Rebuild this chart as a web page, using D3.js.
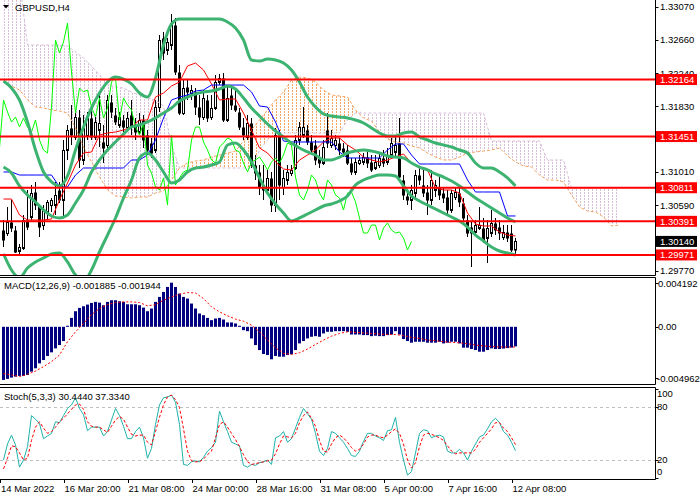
<!DOCTYPE html>
<html>
<head>
<meta charset="utf-8">
<title>GBPUSD,H4</title>
<script src="https://cdn.jsdelivr.net/npm/d3@7"></script>
<style>
  body { margin: 0; background: #fff; }
  svg { display: block; font-family: "Liberation Sans", Arial, sans-serif; font-size: 9.5px; }
</style>
</head>
<body>
<script>

// ---- price bars (H4) ----
var candleOpen = [1.30283,1.30245,1.30383,1.30283,1.30020,1.30058,1.30408,1.30445,1.30758,1.30583,
  1.30345,1.30508,1.30595,1.30595,1.30783,1.30658,1.31283,1.31558,1.31445,1.31695,
  1.31158,1.31470,1.31683,1.31445,1.31533,1.31383,1.31345,1.31883,1.31720,1.31595,
  1.31658,1.31570,1.31720,1.31595,1.31508,1.31658,1.31470,1.31370,1.31283,1.31820,
  1.32683,1.32533,1.32595,1.32845,1.32258,1.31745,1.32070,1.31995,1.32008,1.31820,
  1.31695,1.31908,1.31695,1.31808,1.32133,1.32183,1.31658,1.31970,1.31845,1.31758,
  1.31570,1.31445,1.31620,1.31095,1.31008,1.30845,1.30783,1.30933,1.30595,1.31470,
  1.30820,1.30908,1.30995,1.31058,1.31408,1.31470,1.31533,1.31383,1.31345,1.31195,
  1.31120,1.31533,1.31345,1.31345,1.31370,1.31308,1.31283,1.31120,1.31008,1.31120,
  1.31133,1.31195,1.31133,1.31058,1.31095,1.31183,1.31133,1.31220,1.31258,1.31370,
  1.30908,1.30708,1.30658,1.30745,1.30970,1.30845,1.30758,1.30658,1.30783,1.30820,
  1.30745,1.30695,1.30533,1.30695,1.30745,1.30620,1.30408,1.30320,1.30258,1.30308,
  1.30308,1.30183,1.30245,1.30370,1.30320,1.30195,1.30258,1.30245,1.30033];
var candleHigh = [1.30408,1.30570,1.30658,1.30333,1.30108,1.30470,1.30783,1.30845,1.30883,1.30558,
  1.30595,1.30658,1.30683,1.30883,1.30883,1.31408,1.31595,1.31845,1.31783,1.31783,
  1.31720,1.31758,1.31845,1.31720,1.31970,1.31595,1.31970,1.31970,1.31808,1.31758,
  1.31720,1.31758,1.31908,1.31683,1.31745,1.31720,1.31533,1.31433,1.31908,1.32720,
  1.32758,1.32683,1.32983,1.32933,1.32345,1.32158,1.32158,1.32095,1.32058,1.31970,
  1.32033,1.31970,1.31970,1.32220,1.32233,1.32245,1.32095,1.32095,1.32033,1.31808,
  1.31683,1.31720,1.31683,1.31220,1.31095,1.31095,1.31033,1.31008,1.31558,1.31533,
  1.31033,1.31095,1.31095,1.31470,1.31633,1.31820,1.31595,1.31470,1.31408,1.31283,
  1.31408,1.31745,1.31533,1.31470,1.31433,1.31370,1.31345,1.31183,1.31183,1.31220,
  1.31245,1.31283,1.31220,1.31220,1.31258,1.31283,1.31308,1.31433,1.31470,1.31683,
  1.30970,1.30783,1.30845,1.31033,1.31058,1.31033,1.30845,1.31033,1.30908,1.30970,
  1.30808,1.30783,1.30783,1.30808,1.30808,1.30683,1.30470,1.30383,1.30408,1.30570,
  1.30433,1.30408,1.30533,1.30433,1.30408,1.30345,1.30345,1.30345,1.30183];
var candleLow = [1.30070,1.30208,1.30258,1.29995,1.29983,1.30033,1.30283,1.30408,1.30533,1.30195,
  1.30283,1.30408,1.30508,1.30470,1.30620,1.30445,1.31158,1.31345,1.31408,1.31058,
  1.31095,1.31408,1.31408,1.31408,1.31320,1.31120,1.31283,1.31683,1.31595,1.31558,
  1.31508,1.31533,1.31470,1.31408,1.31470,1.31308,1.31220,1.31183,1.31245,1.31758,
  1.32408,1.32470,1.32533,1.32220,1.31720,1.31720,1.31908,1.31908,1.31720,1.31595,
  1.31658,1.31633,1.31658,1.31783,1.32095,1.31633,1.31633,1.31783,1.31758,1.31533,
  1.31408,1.31408,1.31058,1.30908,1.30720,1.30658,1.30720,1.30508,1.30508,1.30658,
  1.30720,1.30845,1.30958,1.31033,1.31345,1.31433,1.31345,1.31220,1.31095,1.31058,
  1.31095,1.31308,1.31308,1.31283,1.31220,1.31195,1.31095,1.30970,1.30970,1.31095,
  1.31095,1.31058,1.31008,1.31033,1.31058,1.31070,1.31095,1.31183,1.31183,1.30908,
  1.30658,1.30595,1.30533,1.30683,1.30845,1.30695,1.30470,1.30595,1.30695,1.30658,
  1.30620,1.30470,1.30495,1.30658,1.30570,1.30383,1.30195,1.29820,1.30220,1.30283,
  1.30120,1.29870,1.30195,1.30220,1.30158,1.30158,1.30133,1.30008,1.29983];
var candleClose = [1.30158,1.30383,1.30308,1.30008,1.30070,1.30408,1.30320,1.30745,1.30595,1.30320,
  1.30533,1.30633,1.30658,1.30720,1.30658,1.31283,1.31533,1.31470,1.31695,1.31158,
  1.31558,1.31683,1.31445,1.31633,1.31620,1.31308,1.31908,1.31758,1.31633,1.31695,
  1.31570,1.31683,1.31570,1.31508,1.31658,1.31408,1.31283,1.31245,1.31820,1.32658,
  1.32495,1.32633,1.32870,1.32258,1.31745,1.32058,1.32008,1.32033,1.31820,1.31695,
  1.31933,1.31683,1.31808,1.32133,1.32183,1.31658,1.31933,1.31845,1.31783,1.31570,
  1.31470,1.31620,1.31095,1.30995,1.30820,1.30783,1.30933,1.30595,1.31470,1.30845,
  1.30933,1.31008,1.31033,1.31408,1.31570,1.31570,1.31383,1.31283,1.31158,1.31120,
  1.31320,1.31370,1.31433,1.31408,1.31283,1.31258,1.31120,1.31008,1.31133,1.31158,
  1.31195,1.31120,1.31033,1.31133,1.31183,1.31120,1.31220,1.31370,1.31345,1.30945,
  1.30720,1.30658,1.30783,1.30970,1.30908,1.30745,1.30658,1.30908,1.30845,1.30720,
  1.30683,1.30533,1.30745,1.30758,1.30633,1.30433,1.30245,1.30245,1.30345,1.30345,
  1.30158,1.30308,1.30370,1.30283,1.30245,1.30258,1.30183,1.30033,1.30140];

// ---- Bollinger bands, every second bar ----
var bbUpper = [1.32145,1.32058,1.31908,1.31633,1.31283,1.31008,1.30883,1.30833,1.30958,1.31283,
  1.31570,1.31808,1.31995,1.32133,1.32195,1.32170,1.32108,1.31995,1.31945,1.32183,
  1.32595,1.32858,1.32920,1.32920,1.32920,1.32920,1.32920,1.32920,1.32883,1.32808,
  1.32658,1.32408,1.32395,1.32420,1.32408,1.32370,1.32283,1.32133,1.31945,1.31820,
  1.31733,1.31708,1.31695,1.31683,1.31658,1.31620,1.31558,1.31495,1.31458,1.31458,
  1.31495,1.31508,1.31445,1.31408,1.31370,1.31345,1.31320,1.31283,1.31245,1.31120,
  1.31058,1.31058,1.31008,1.30933,1.30833];
var bbMiddle = [1.31070,1.30995,1.30833,1.30720,1.30633,1.30533,1.30458,1.30433,1.30470,1.30620,
  1.30783,1.31008,1.31158,1.31283,1.31383,1.31483,1.31570,1.31595,1.31633,1.31683,
  1.31745,1.31808,1.31895,1.31945,1.31983,1.32008,1.32020,1.32045,1.32083,1.32045,
  1.31933,1.31808,1.31708,1.31608,1.31520,1.31445,1.31370,1.31308,1.31258,1.31220,
  1.31158,1.31158,1.31195,1.31245,1.31270,1.31283,1.31270,1.31245,1.31208,1.31195,
  1.31183,1.31120,1.31070,1.31033,1.30983,1.30945,1.30895,1.30833,1.30758,1.30683,
  1.30620,1.30558,1.30495,1.30433,1.30383];
var bbLower = [1.29983,1.29783,1.29683,1.29808,1.29883,1.29933,1.29983,1.29995,1.29883,1.29720,
  1.29633,1.29783,1.30008,1.30220,1.30433,1.30683,1.30908,1.31183,1.31245,1.31158,
  1.31008,1.30870,1.30908,1.31008,1.31058,1.31070,1.31095,1.31133,1.31345,1.31370,
  1.31283,1.31133,1.30933,1.30745,1.30608,1.30495,1.30395,1.30433,1.30483,1.30533,
  1.30583,1.30608,1.30645,1.30708,1.30845,1.30908,1.30945,1.30970,1.30970,1.30958,
  1.30833,1.30708,1.30645,1.30595,1.30545,1.30495,1.30445,1.30395,1.30320,1.30220,
  1.30145,1.30070,1.30020,1.29995,1.29970];

// ---- Ichimoku, every second bar ----
var tenkan = [1.30670,1.30670,1.30470,1.30408,1.30408,1.30408,1.30420,1.30658,1.30870,1.31095,
  1.31245,1.31258,1.31470,1.31495,1.31508,1.31533,1.31570,1.31658,1.31658,1.31945,
  1.31995,1.32083,1.32133,1.32333,1.32370,1.32283,1.32108,1.31908,1.31920,1.31920,
  1.31745,1.31533,1.31308,1.31245,1.31133,1.31045,1.31033,1.31158,1.31220,1.31283,
  1.31383,1.31433,1.31433,1.31345,1.31283,1.31195,1.31158,1.31133,1.31158,1.31195,
  1.31233,1.31120,1.31058,1.31033,1.30808,1.30783,1.30783,1.30745,1.30495,1.30358,
  1.30333,1.30333,1.30258,1.30220,1.30208];
var kijun = [1.31008,1.31008,1.30970,1.30970,1.30970,1.30970,1.30970,1.30820,1.30820,1.30970,
  1.31058,1.31058,1.31058,1.31058,1.31058,1.31058,1.31158,1.31158,1.31220,1.31408,
  1.31683,1.31908,1.31945,1.31970,1.32020,1.32033,1.32095,1.32095,1.32095,1.32095,
  1.32095,1.32008,1.31833,1.31820,1.31633,1.31395,1.31383,1.31383,1.31383,1.31383,
  1.31383,1.31383,1.31258,1.31183,1.31183,1.31183,1.31183,1.31183,1.31283,1.31358,
  1.31358,1.31220,1.31108,1.31108,1.31108,1.31108,1.31108,1.31108,1.30908,1.30758,
  1.30758,1.30758,1.30758,1.30458,1.30458];
// senkou spans run 26 bars past the last candle
var spanA = [1.32133,1.32083,1.32033,1.31908,1.31820,1.31808,1.31783,1.31770,1.31745,1.31558,
  1.31320,1.31133,1.30945,1.30783,1.30708,1.30695,1.30683,1.30695,1.30695,1.30745,
  1.30770,1.30908,1.31058,1.31120,1.31145,1.31158,1.31195,1.31220,1.31245,1.31270,
  1.31395,1.31533,1.31658,1.31783,1.31908,1.32008,1.32158,1.32195,1.32183,1.32133,
  1.32033,1.31970,1.31958,1.31945,1.31783,1.31683,1.31645,1.31508,1.31420,1.31383,
  1.31370,1.31333,1.31308,1.31245,1.31195,1.31158,1.31158,1.31195,1.31245,1.31258,
  1.31270,1.31283,1.31308,1.31208,1.31133,1.31083,1.31070,1.30970,1.30908,1.30908,
  1.30883,1.30720,1.30570,1.30520,1.30508,1.30445,1.30333,1.30345];
var spanB = [1.33408,1.33408,1.33408,1.32595,1.32595,1.32595,1.32595,1.32595,1.32583,1.32508,
  1.32433,1.32333,1.32220,1.32108,1.32070,1.32058,1.32008,1.31970,1.31933,1.31908,
  1.31833,1.31345,1.31058,1.31058,1.31058,1.31058,1.31058,1.31058,1.31058,1.31058,
  1.31058,1.31058,1.31283,1.31408,1.31495,1.31495,1.31495,1.31495,1.31495,1.31495,
  1.31495,1.31495,1.31495,1.31658,1.31745,1.31745,1.31745,1.31745,1.31745,1.31745,
  1.31745,1.31745,1.31745,1.31745,1.31745,1.31745,1.31745,1.31745,1.31745,1.31745,
  1.31745,1.31395,1.31395,1.31395,1.31395,1.31395,1.31395,1.31395,1.31158,1.31158,
  1.31158,1.30808,1.30808,1.30808,1.30808,1.30808,1.30808,1.30808];
var chikouShift = 26;

// ---- MACD(12,26,9) ----
var macdHist = [-0.00512,-0.00502,-0.00489,-0.00480,-0.00473,-0.00473,-0.00464,-0.00432,-0.00400,-0.00352,
  -0.00320,-0.00281,-0.00246,-0.00208,-0.00176,-0.00137,0.00010,0.00086,0.00150,0.00182,
  0.00198,0.00214,0.00230,0.00240,0.00233,0.00208,0.00240,0.00256,0.00256,0.00246,
  0.00240,0.00217,0.00217,0.00217,0.00208,0.00185,0.00150,0.00176,0.00240,0.00288,
  0.00336,0.00384,0.00425,0.00384,0.00320,0.00288,0.00272,0.00224,0.00176,0.00128,
  0.00112,0.00086,0.00064,0.00080,0.00086,0.00070,0.00042,0.00042,0.00032,0.00010,
  -0.00032,-0.00042,-0.00112,-0.00176,-0.00224,-0.00262,-0.00272,-0.00313,-0.00281,-0.00288,
  -0.00288,-0.00272,-0.00265,-0.00224,-0.00160,-0.00137,-0.00112,-0.00096,-0.00090,-0.00096,
  -0.00064,-0.00048,-0.00048,-0.00042,-0.00042,-0.00042,-0.00048,-0.00074,-0.00074,-0.00074,
  -0.00080,-0.00080,-0.00090,-0.00086,-0.00090,-0.00090,-0.00080,-0.00074,-0.00042,-0.00074,
  -0.00118,-0.00137,-0.00153,-0.00144,-0.00144,-0.00144,-0.00153,-0.00153,-0.00153,-0.00144,
  -0.00160,-0.00153,-0.00144,-0.00144,-0.00160,-0.00201,-0.00201,-0.00214,-0.00224,-0.00240,
  -0.00240,-0.00224,-0.00208,-0.00214,-0.00214,-0.00210,-0.00205,-0.00200,-0.001885];
var macdSignal = [-0.00451,-0.00464,-0.00480,-0.00458,-0.00426,-0.00384,-0.00336,-0.00272,-0.00144,-0.00048,
  0.00032,0.00118,0.00176,0.00214,0.00234,0.00240,0.00240,0.00234,0.00202,0.00214,
  0.00256,0.00288,0.00314,0.00330,0.00326,0.00272,0.00192,0.00144,0.00106,0.00074,
  0.00054,0.00016,-0.00048,-0.00128,-0.00202,-0.00256,-0.00266,-0.00250,-0.00214,-0.00170,
  -0.00128,-0.00090,-0.00064,-0.00048,-0.00054,-0.00058,-0.00064,-0.00070,-0.00074,-0.00074,
  -0.00086,-0.00102,-0.00112,-0.00128,-0.00134,-0.00144,-0.00150,-0.00154,-0.00163,-0.00176,
  -0.00184,-0.00190,-0.00194,-0.00195,-0.001944];

// ---- Stochastic(5,3,3) ----
var stochMain = [20,38,48,37,12,20,35,70,66,61, 44,47,50,63,62,70,78,82,90,78,
  71,53,57,57,57,47,52,65,78,70, 58,44,44,52,57,45,22,33,60,82,
  90,91,93,85,60,15,14,18,19,18, 23,30,34,40,75,63,52,40,38,36,
  14,12,15,14,17,18,20,15,45,47, 52,40,44,56,68,78,72,66,50,30,
  25,33,52,50,45,40,33,25,24,30, 41,50,50,47,45,42,53,54,68,40,
  20,3,7,28,50,54,53,45,47,48, 46,30,28,28,32,28,20,30,38,46,
  48,55,63,67,62,52,48,40,30.444];
var stochSignal = [10,22,36,35,28,20,22,42,57,63, 56,50,52,57,63,67,72,77,82,83,
  77,63,58,57,57,54,51,58,65,69, 66,57,49,47,48,48,40,37,52,68,
  82,91,93,88,79,55,30,19,18,18, 21,26,30,45,60,63,57,50,43,35,
  26,18,15,16,17,18,19,20,27,38, 47,46,45,50,62,70,74,67,58,42,
  30,29,38,45,48,45,40,34,30,32, 38,46,48,48,46,45,48,52,55,50,
  38,20,11,17,35,48,50,49,47,45, 42,36,30,27,28,28,28,28,32,40,
  45,50,55,62,62,56,52,45,37.334];

// ---- levels and axis labels ----
var levelLines = [1.32164, 1.31451, 1.30811, 1.30391, 1.29971];
var lastPrice = 1.30140;
var priceTicks = [1.33070, 1.32660, 1.32240, 1.31830, 1.31420, 1.31010, 1.30590, 1.30180, 1.29770];
var macdTicks = [0.004192, 0, -0.004962];
var macdTickLabels = ['0.004192', '0.00', '-0.004962'];
var stochTicks = [100, 80, 20, 0];
var stochLevels = [80, 20];
var timeBars = [-1, 15, 31, 47, 63, 79, 95, 111, 127];
var timeLabels = ['14 Mar 2022', '16 Mar 20:00', '21 Mar 08:00', '24 Mar 00:00', '28 Mar 16:00',
  '31 Mar 08:00', '5 Apr 00:00', '7 Apr 16:00', '12 Apr 08:00'];


var plotRight = 655.5;
var svg = d3.select('body').append('svg')
  .attr('width', 700)
  .attr('height', 500);

var x = d3.scaleLinear().domain([0, 128]).range([3.5, 515.5]);
var yP = d3.scaleLinear().domain([1.29714, 1.33158]).range([275.5, 0]);
var yM = d3.scaleLinear().domain([-0.004962, 0.004192]).range([378.3, 283.3]);
var yS = d3.scaleLinear().domain([0, 100]).range([477.8, 388.9]);

var defs = svg.append('defs');
[['main', 0, 0, 655, 275], ['macd', 0, 278, 655, 106], ['stoch', 0, 388, 655, 91]].forEach(function(c) {
  defs.append('clipPath').attr('id', 'clip-' + c[0])
    .append('rect').attr('x', c[1]).attr('y', c[2]).attr('width', c[3]).attr('height', c[4]);
});
// dotted vertical hatching of the kumo, one column per bar
function hatch(id, color) {
  var p = defs.append('pattern').attr('id', id)
    .attr('patternUnits', 'userSpaceOnUse')
    .attr('x', 0).attr('y', 0).attr('width', 4).attr('height', 3);
  p.append('rect').attr('width', 1).attr('height', 2)
    .attr('fill', color).attr('shape-rendering', 'crispEdges');
}
hatch('kumo-up', '#F4A460');
hatch('kumo-down', '#D8BFD8');

function every2(values, scale) {
  return values.map(function(v, k) { return [x(2 * k), scale(v)]; });
}
var line = d3.line();
var smooth = d3.line().curve(d3.curveMonotoneX);

// ================= main window =================
var main = svg.append('g').attr('clip-path', 'url(#clip-main)');

var kumoIdx = d3.range(spanA.length);
main.append('path')
  .attr('d', d3.area()
    .x(function(k) { return x(2 * k); })
    .y0(function(k) { return yP(spanB[k]); })
    .y1(function(k) { return Math.min(yP(spanA[k]), yP(spanB[k])); })(kumoIdx))
  .attr('fill', 'url(#kumo-up)');
main.append('path')
  .attr('d', d3.area()
    .x(function(k) { return x(2 * k); })
    .y0(function(k) { return yP(spanA[k]); })
    .y1(function(k) { return Math.min(yP(spanA[k]), yP(spanB[k])); })(kumoIdx))
  .attr('fill', 'url(#kumo-down)');

// candles
var bars = main.selectAll('g.bar').data(d3.range(candleClose.length))
  .enter().append('g').attr('class', 'bar');
bars.append('line')
  .attr('x1', function(i) { return x(i); })
  .attr('x2', function(i) { return x(i); })
  .attr('y1', function(i) { return yP(candleHigh[i]); })
  .attr('y2', function(i) { return yP(candleLow[i]); })
  .attr('stroke', '#000');
bars.append('rect')
  .attr('x', function(i) { return candleClose[i] >= candleOpen[i] ? x(i) - 1 : x(i) - 1.5; })
  .attr('width', function(i) { return candleClose[i] >= candleOpen[i] ? 2 : 3; })
  .attr('y', function(i) { return Math.round(yP(Math.max(candleOpen[i], candleClose[i]))) + 0.5; })
  .attr('height', function(i) {
    return Math.max(1, Math.abs(yP(candleOpen[i]) - yP(candleClose[i])));
  })
  .attr('fill', function(i) { return candleClose[i] >= candleOpen[i] ? '#fff' : '#000'; })
  .attr('stroke', '#000')
  .attr('stroke-width', function(i) { return candleClose[i] >= candleOpen[i] ? 1 : 0; });

// kumo borders
main.append('path').attr('d', line(every2(spanA, yP)))
  .attr('fill', 'none').attr('stroke', '#F4A460').attr('stroke-dasharray', '3,2');
main.append('path').attr('d', line(every2(spanB, yP)))
  .attr('fill', 'none').attr('stroke', '#D8BFD8').attr('stroke-dasharray', '3,2');

main.append('path').attr('d', line(every2(tenkan, yP)))
  .attr('fill', 'none').attr('stroke', '#FF0000');
main.append('path').attr('d', line(every2(kijun, yP)))
  .attr('fill', 'none').attr('stroke', '#0000FF');

// chikou span: closes drawn 26 bars back
var chikou = d3.range(chikouShift - 1, candleClose.length).map(function(i) {
  return [x(i - chikouShift), yP(candleClose[i])];
});
main.append('path').attr('d', line(chikou))
  .attr('fill', 'none').attr('stroke', '#00FF00');

[bbUpper, bbMiddle, bbLower].forEach(function(band) {
  main.append('path').attr('d', smooth(every2(band, yP)))
    .attr('fill', 'none').attr('stroke', '#3CB371').attr('stroke-width', 3);
});

main.selectAll('line.level').data(levelLines)
  .enter().append('line').attr('class', 'level')
  .attr('x1', 0).attr('x2', plotRight)
  .attr('y1', function(d) { return yP(d); })
  .attr('y2', function(d) { return yP(d); })
  .attr('stroke', '#FF0000').attr('stroke-width', 2);

// price scale
var axis = svg.append('g');
axis.selectAll('line.ptick').data(priceTicks)
  .enter().append('line').attr('class', 'ptick')
  .attr('x1', plotRight).attr('x2', plotRight + 3)
  .attr('y1', function(d) { return Math.round(yP(d)) + 0.5; })
  .attr('y2', function(d) { return Math.round(yP(d)) + 0.5; })
  .attr('stroke', '#000');
axis.selectAll('text.ptick').data(priceTicks)
  .enter().append('text').attr('class', 'ptick')
  .attr('x', 660).attr('y', function(d) { return yP(d); }).attr('dy', '0.35em')
  .text(function(d) { return d.toFixed(5); });

var tags = levelLines.map(function(v) { return { v: v, c: '#FF0000' }; })
  .concat([{ v: lastPrice, c: '#000' }]);
axis.selectAll('rect.tag').data(tags)
  .enter().append('rect').attr('class', 'tag')
  .attr('x', 656).attr('width', 41)
  .attr('y', function(d) { return yP(d.v) - 5.5; }).attr('height', 11)
  .attr('fill', function(d) { return d.c; });
axis.selectAll('text.tag').data(tags)
  .enter().append('text').attr('class', 'tag')
  .attr('x', 660).attr('y', function(d) { return yP(d.v); }).attr('dy', '0.35em')
  .attr('fill', '#fff')
  .text(function(d) { return d.v.toFixed(5); });

svg.append('path').attr('d', 'M3,5L9,5L6,8.5Z').attr('fill', '#000');
svg.append('text').attr('x', 15).attr('y', 11).text('GBPUSD,H4');

// ================= MACD window =================
var macd = svg.append('g').attr('clip-path', 'url(#clip-macd)');
macd.selectAll('rect').data(macdHist)
  .enter().append('rect')
  .attr('x', function(d, i) { return x(i) - 1.5; })
  .attr('width', 3)
  .attr('y', function(d) { return yM(Math.max(d, 0)); })
  .attr('height', function(d) { return Math.abs(yM(d) - yM(0)); })
  .attr('fill', '#000080');
macd.append('path').attr('d', line(every2(macdSignal, yM)))
  .attr('fill', 'none').attr('stroke', '#FF0000').attr('stroke-dasharray', '2,2');

svg.append('text').attr('x', 4).attr('y', 289)
  .text('MACD(12,26,9) ' + macdHist[macdHist.length - 1].toFixed(6) + ' ' +
        macdSignal[macdSignal.length - 1].toFixed(6));
axis.selectAll('text.mtick').data(macdTicks)
  .enter().append('text').attr('class', 'mtick')
  .attr('x', function(d) { return d < 0 ? 657 : 658; })
  .attr('y', function(d) { return yM(d); }).attr('dy', '0.35em')
  .text(function(d, i) { return macdTickLabels[i]; });
axis.selectAll('line.mtick').data(macdTicks)
  .enter().append('line').attr('class', 'mtick')
  .attr('x1', plotRight).attr('x2', plotRight + 3)
  .attr('y1', function(d) { return Math.round(yM(d)) + 0.5; })
  .attr('y2', function(d) { return Math.round(yM(d)) + 0.5; })
  .attr('stroke', '#000');

// ================= Stochastic window =================
var stoch = svg.append('g').attr('clip-path', 'url(#clip-stoch)');
stoch.selectAll('line.lvl').data(stochLevels)
  .enter().append('line').attr('class', 'lvl')
  .attr('x1', 0).attr('x2', plotRight)
  .attr('y1', function(d) { return Math.round(yS(d)) + 0.5; })
  .attr('y2', function(d) { return Math.round(yS(d)) + 0.5; })
  .attr('stroke', '#C0C0C0').attr('stroke-dasharray', '3,3');
stoch.append('path')
  .attr('d', line(stochMain.map(function(v, i) { return [x(i), yS(v)]; })))
  .attr('fill', 'none').attr('stroke', '#20B2AA');
stoch.append('path')
  .attr('d', line(stochSignal.map(function(v, i) { return [x(i), yS(v)]; })))
  .attr('fill', 'none').attr('stroke', '#FF0000').attr('stroke-dasharray', '3,2');

svg.append('text').attr('x', 4).attr('y', 399.5)
  .text('Stoch(5,3,3) ' + stochMain[stochMain.length - 1].toFixed(4) + ' ' +
        stochSignal[stochSignal.length - 1].toFixed(4));
axis.selectAll('text.stick').data(stochTicks)
  .enter().append('text').attr('class', 'stick')
  .attr('x', 657)
  .attr('y', function(d) { return yS(d) + (d === 100 ? 5 : d === 0 ? -6 : 0); })
  .attr('dy', '0.35em')
  .text(function(d) { return d; });
axis.selectAll('line.stick').data(stochTicks)
  .enter().append('line').attr('class', 'stick')
  .attr('x1', plotRight).attr('x2', plotRight + 3)
  .attr('y1', function(d) { return Math.round(yS(d)) + 0.5; })
  .attr('y2', function(d) { return Math.round(yS(d)) + 0.5; })
  .attr('stroke', '#000');

// ================= frames and time scale =================
[275.5, 277.5, 384.5, 387.5, 479.5].forEach(function(y) {
  svg.append('line').attr('x1', 0).attr('x2', plotRight)
    .attr('y1', y).attr('y2', y).attr('stroke', '#000');
});
[[0, 275.5], [277.5, 384.5], [387.5, 479.5]].forEach(function(s) {
  svg.append('line').attr('x1', plotRight).attr('x2', plotRight)
    .attr('y1', s[0]).attr('y2', s[1]).attr('stroke', '#000');
});

var tx = function(b) { return Math.round(x(b) + 0.5) + 0.5; };
svg.selectAll('line.ttick').data(timeBars)
  .enter().append('line').attr('class', 'ttick')
  .attr('x1', tx).attr('x2', tx)
  .attr('y1', 479.5).attr('y2', 483)
  .attr('stroke', '#000');
svg.selectAll('text.ttick').data(timeBars)
  .enter().append('text').attr('class', 'ttick')
  .attr('x', function(b) { return Math.max(1, tx(b)); })
  .attr('y', 491.5)
  .text(function(b, i) { return timeLabels[i]; });

</script>
</body>
</html>
